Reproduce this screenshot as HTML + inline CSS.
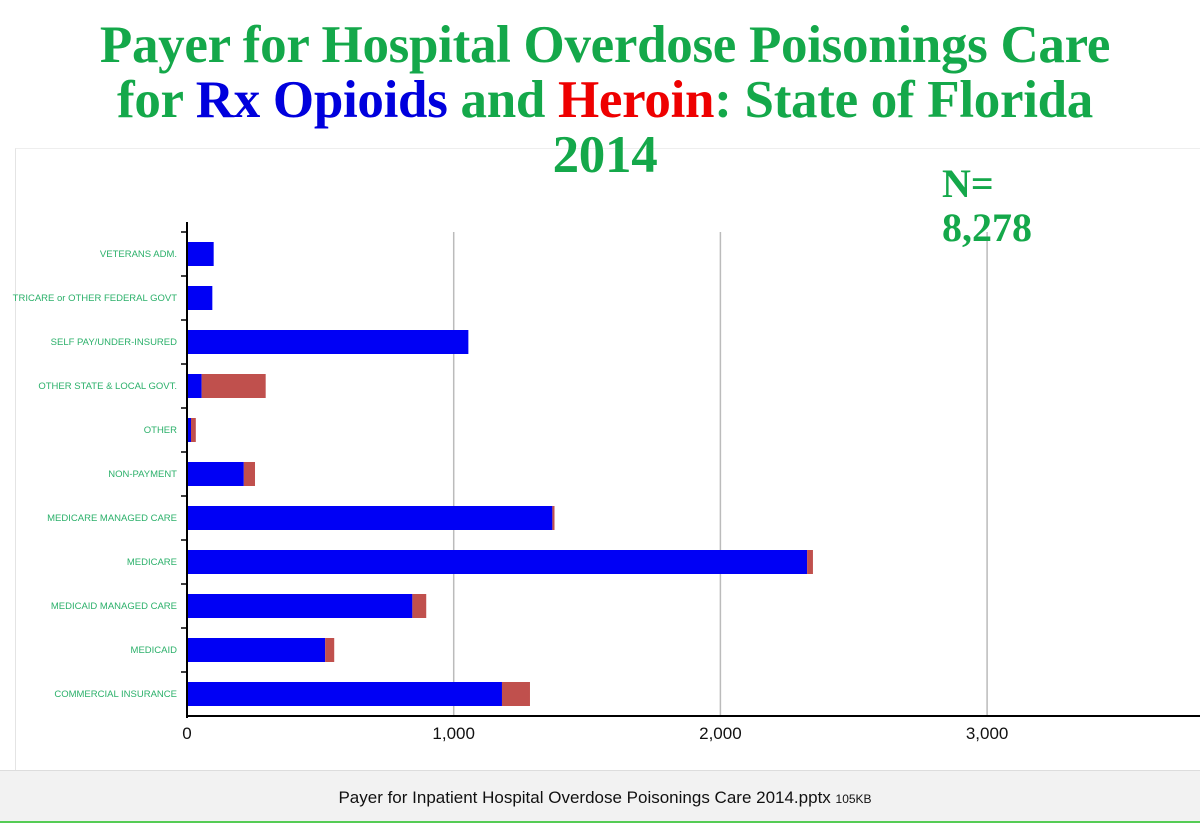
<!DOCTYPE html>
<html><head><meta charset="utf-8"><style>
body{margin:0;width:1200px;height:822px;overflow:hidden;background:#fff;font-family:"Liberation Sans",sans-serif;position:relative}
.title{position:absolute;left:0;top:18px;width:1210px;text-align:center;font-family:"Liberation Serif",serif;font-weight:bold;font-size:53px;line-height:55px;color:#14a84a;letter-spacing:-0.3px}
.n{position:absolute;left:942px;top:162px;font-family:"Liberation Serif",serif;font-weight:bold;font-size:40px;line-height:44px;color:#14a84a}
</style></head><body>
<div style="position:absolute;left:15px;top:148px;width:1185px;height:622px;border-left:1px solid #e4e4e4;border-top:1px solid #eee"></div>
<svg id="chart" width="1200" height="822" style="position:absolute;left:0;top:0"></svg>
<div class="title">Payer for Hospital Overdose Poisonings Care<br>for <span style="color:#0000dd">Rx Opioids</span> and <span style="color:#ee0000">Heroin</span>: State of Florida<br>2014</div>
<div class="n">N=<br>8,278</div>
<div style="position:absolute;left:0;top:770px;width:1200px;height:50px;background:#f2f2f2;border-top:1px solid #ddd;border-bottom:2px solid #5c5"></div>
<div style="position:absolute;left:0;top:788px;width:1210px;text-align:center;font-size:17px;color:#111">Payer for Inpatient Hospital Overdose Poisonings Care 2014.pptx <span style="font-size:12px">105KB</span></div>
<script>
const categories=["VETERANS ADM.","TRICARE or OTHER FEDERAL GOVT","SELF PAY/UNDER-INSURED","OTHER STATE & LOCAL GOVT.","OTHER","NON-PAYMENT","MEDICARE MANAGED CARE","MEDICARE","MEDICAID MANAGED CARE","MEDICAID","COMMERCIAL INSURANCE"];
const rxOpioids=[100,95,1055,55,15,213,1370,2325,845,518,1181];
const heroin=[0,0,0,240,18,42,8,22,52,34,105];
const ticks=[0,1000,2000,3000];
const tickLabels=["0","1,000","2,000","3,000"];
const svg=document.getElementById('chart');const NS='http://www.w3.org/2000/svg';
const x0=187,pxPer=0.2667,top0=232,band=44;
const X=v=>x0+v*pxPer;const Y=i=>top0+i*band;
function mk(t,a){const e=document.createElementNS(NS,t);for(const k in a)e.setAttribute(k,a[k]);svg.appendChild(e);return e;}
ticks.forEach((t,i)=>{if(t>0){const g=mk('line',{x1:X(t),x2:X(t),y1:top0,y2:716,stroke:'#bbb','stroke-width':1.5});

}
const l=mk('text',{x:X(t),y:739,'text-anchor':'middle','font-size':17,fill:'#111','font-family':'Liberation Sans'});l.textContent=tickLabels[i];

});
categories.forEach((c,i)=>{const cy=Y(i)+band/2;
const b=mk('rect',{x:x0,y:cy-12,width:rxOpioids[i]*pxPer,height:24,fill:'#0000f5'});


const h=mk('rect',{x:X(rxOpioids[i]),y:cy-12,width:heroin[i]*pxPer,height:24,fill:'#c0504d'});


const t=mk('text',{x:177,y:cy+3,'text-anchor':'end','font-size':9.5,fill:'#2bb06a','font-family':'Liberation Sans'});t.textContent=c;


const tk=mk('line',{x1:181,x2:187,y1:Y(i),y2:Y(i),stroke:'#000','stroke-width':1.5});

});
const ya=mk('line',{x1:x0,x2:x0,y1:top0-10,y2:718,stroke:'#000','stroke-width':2});


const xa=mk('line',{x1:x0,x2:1200,y1:716,y2:716,stroke:'#000','stroke-width':2});


</script>
</body></html>
